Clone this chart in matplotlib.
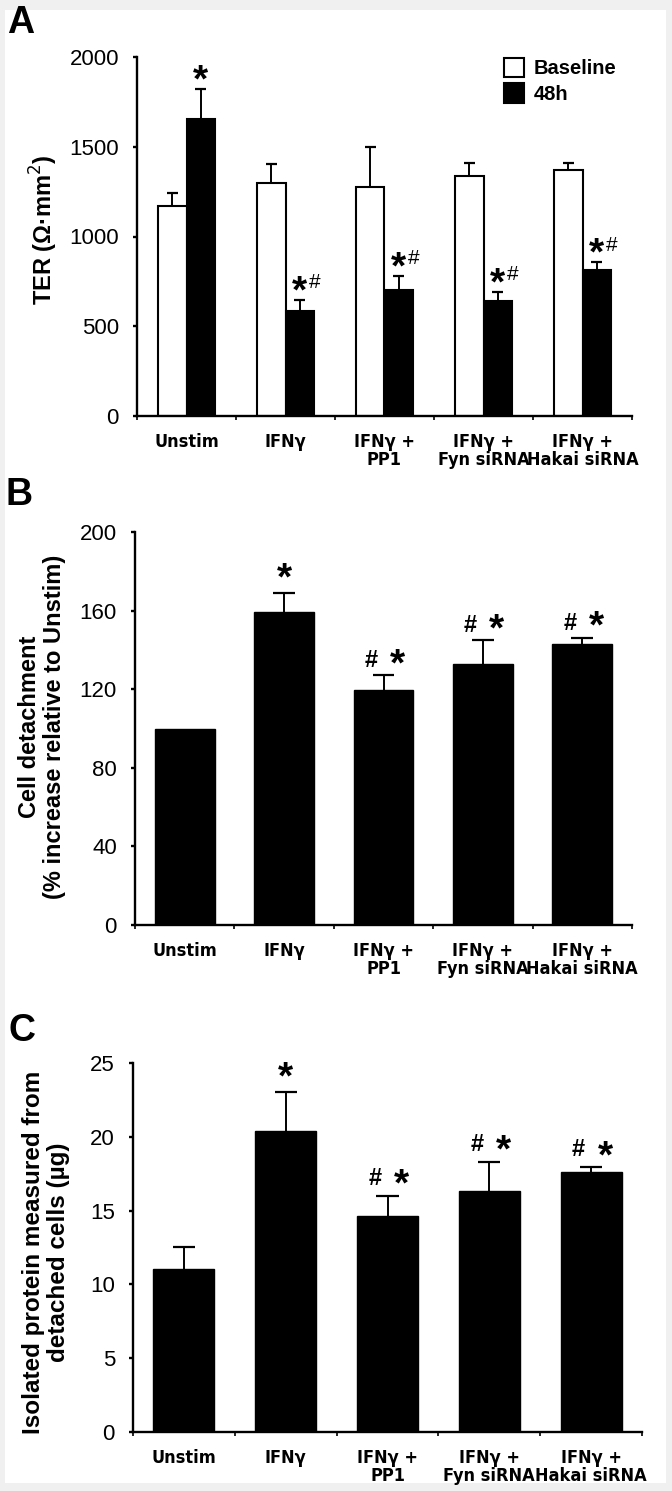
import matplotlib
matplotlib.use("Agg")
import matplotlib.pyplot as plt
from matplotlib.patches import Patch, Rectangle
from matplotlib import font_manager
from matplotlib.transforms import ScaledTranslation
import numpy as np

plt.rcParams['font.family'] = ['Liberation Sans', 'DejaVu Sans']

categories = ["Unstim", "IFN\u03b3", "IFN\u03b3 +\nPP1", "IFN\u03b3 +\nFyn siRNA", "IFN\u03b3 +\nHakai siRNA"]

# Panel A: TER
ter_baseline = [1170, 1298, 1276, 1339, 1369]
ter_baseline_err = [74, 104, 223, 72, 42]
ter_48h = [1655, 587, 702, 639, 815]
ter_48h_err = [165, 59, 78, 52, 41]
ter_marks = ["*", "*#", "*#", "*#", "*#"]
ter_ticks = [0, 500, 1000, 1500, 2000]

# Panel B: Cell detachment
detach = [100, 159.5, 119.5, 133.0, 143.2]
detach_err = [0, 9.3, 7.6, 12.0, 2.9]
detach_marks = ["", "*", "# *", "# *", "# *"]
detach_ticks = [0, 40, 80, 120, 160, 200]

# Panel C: Isolated protein
protein = [11.06, 20.37, 14.65, 16.3, 17.59]
protein_err = [1.5, 2.65, 1.36, 2.0, 0.36]
protein_marks = ["", "*", "# *", "# *", "# *"]
protein_ticks = [0, 5, 10, 15, 20, 25]

# pick a condensed face for the category labels if one is installed
CATFAM, CATFS, CATSTRETCH = ['Liberation Sans', 'DejaVu Sans'], 12.5, 'normal'
for fam, stretch, size in [('Liberation Sans Narrow', 'normal', 15),
                           ('DejaVu Sans Condensed', 'normal', 13),
                           ('DejaVu Sans', 'condensed', 13),
                           ('Roboto Condensed', 'normal', 15)]:
    try:
        f = font_manager.findfont(font_manager.FontProperties(family=fam, weight='bold', stretch=stretch),
                                  fallback_to_default=False)
        low = f.lower()
        if 'narrow' in low or 'condensed' in low:
            CATFAM, CATFS, CATSTRETCH = [fam, 'DejaVu Sans'], size, stretch
            break
    except Exception:
        pass

W, H = 672, 1491
fig = plt.figure(figsize=(W / 100, H / 100), dpi=100, facecolor='#f0f0f0')
fig.patches.append(Rectangle((5 / W, 8 / H), (666 - 5) / W, (1486 - 5 - 8) / H,
                             transform=fig.transFigure, facecolor='white',
                             edgecolor='none', zorder=-10))

def px_axes(l, t, r, b):
    return fig.add_axes([l / W, 1 - b / H, (r - l) / W, (b - t) / H])

TICKFS = 16

def style(ax, ymax, ticks):
    x = np.arange(len(categories))
    ax.set_facecolor('none')
    for s in ['top', 'right']:
        ax.spines[s].set_visible(False)
    for s in ['left', 'bottom']:
        ax.spines[s].set_linewidth(1.7)
    ax.set_ylim(0, ymax)
    ax.set_xlim(-0.5, len(categories) - 0.5)
    ax.set_yticks(ticks)
    ax.set_yticklabels([str(t) for t in ticks], fontsize=TICKFS)
    ax.tick_params(axis='y', length=3, width=1.7, pad=10)
    ax.set_xticks(x)
    labs = ax.set_xticklabels(categories, fontsize=CATFS, fontweight='bold', linespacing=1.0,
                              family=CATFAM, fontstretch=CATSTRETCH)
    # the last label sits a little to the right in the original
    labs[-1].set_transform(labs[-1].get_transform() + ScaledTranslation(8 / 100, 0, fig.dpi_scale_trans))
    ax.tick_params(axis='x', which='major', length=0, pad=12)
    ax.set_xticks(np.arange(len(categories) + 1) - 0.5, minor=True)
    ax.tick_params(axis='x', which='minor', length=3, width=1.2)

def error_up(ax, xs, vals, errs, capw):
    for xx, v, e in zip(xs, vals, errs):
        if e <= 0:
            continue
        ax.plot([xx, xx], [v, v + e], color='black', lw=1.4, zorder=1, solid_capstyle='butt')
        ax.plot([xx - capw, xx + capw], [v + e, v + e], color='black', lw=1.6, zorder=1,
                solid_capstyle='butt')

STARFS = 28

def star(ax, xx, t, dx, dy):
    ax.annotate("*", xy=(xx, t), xytext=(dx, dy), textcoords='offset points',
                ha='center', va='baseline', fontsize=STARFS, fontweight='bold')

def hsh(ax, xx, t, dx, dy, size, weight='bold'):
    ax.annotate("#", xy=(xx, t), xytext=(dx, dy), textcoords='offset points',
                ha='center', va='baseline', fontsize=size, fontweight=weight)

def marks(ax, xs, tops, labels, star_dy, hash_dy):
    for xx, t, lab in zip(xs, tops, labels):
        if lab == "*":
            star(ax, xx, t, 0, star_dy)
        elif lab == "*#":
            star(ax, xx, t, 0, star_dy)
            hsh(ax, xx, t, 11, hash_dy, 15, weight='normal')
        elif lab == "# *":
            hsh(ax, xx, t, -9, hash_dy, 17)
            star(ax, xx, t, 10, star_dy - 2.5)

x = np.arange(len(categories))

# ---------------- Panel A ----------------
axA = px_axes(137, 57, 632, 416)
bw = 0.285
axA.bar(x - bw / 2, ter_baseline, bw, color='white', edgecolor='black', linewidth=1.5, zorder=2)
axA.bar(x + bw / 2, ter_48h, bw, color='black', edgecolor='black', linewidth=1.5, zorder=2)
error_up(axA, x - bw / 2, ter_baseline, ter_baseline_err, 0.055)
error_up(axA, x + bw / 2, ter_48h, ter_48h_err, 0.055)
style(axA, 2000, ter_ticks)
marks(axA, x + bw / 2, [v + e for v, e in zip(ter_48h, ter_48h_err)], ter_marks,
      star_dy=-1.5, hash_dy=8.5)
leg = axA.legend(handles=[Patch(facecolor='white', edgecolor='black', linewidth=1.5, label='Baseline'),
                          Patch(facecolor='black', edgecolor='black', linewidth=1.5, label='48h')],
                 loc='upper left', bbox_to_anchor=((496 - 137) / 495, 1.02), frameon=False,
                 prop={'size': 14.5, 'weight': 'bold'}, handlelength=1.0, handleheight=1.1,
                 handletextpad=0.45, labelspacing=0.25, borderaxespad=0)
fig.text(44 / W, 1 - 230 / H, "TER (\u03a9\u00b7mm$^2$)", rotation=90, ha='center', va='center',
         fontsize=17, fontweight='bold')
fig.text(7 / W, 1 - 33 / H, "A", fontsize=27, fontweight='bold', ha='left', va='baseline')

# ---------------- Panel B ----------------
axB = px_axes(135, 532, 632, 925)
axB.bar(x, detach, 0.6, color='black', edgecolor='black', zorder=2)
error_up(axB, x, detach, detach_err, 0.11)
style(axB, 200, detach_ticks)
marks(axB, x, [v + e for v, e in zip(detach, detach_err)], detach_marks,
      star_dy=2.5, hash_dy=6)
fig.text(42 / W, 1 - 727 / H, "Cell detachment\n(% increase relative to Unstim)", rotation=90,
         ha='center', va='center', multialignment='center', fontsize=17, fontweight='bold',
         linespacing=1.15)
fig.text(6 / W, 1 - 505 / H, "B", fontsize=27, fontweight='bold', ha='left', va='baseline')

# ---------------- Panel C ----------------
axC = px_axes(133, 1063, 642, 1432)
axC.bar(x, protein, 0.6, color='black', edgecolor='black', zorder=2)
error_up(axC, x, protein, protein_err, 0.11)
style(axC, 25, protein_ticks)
marks(axC, x, [v + e for v, e in zip(protein, protein_err)], protein_marks,
      star_dy=2.5, hash_dy=8)
fig.text(46 / W, 1 - 1252 / H, "Isolated protein measured from\ndetached cells (\u00b5g)", rotation=90,
         ha='center', va='center', multialignment='center', fontsize=17.5, fontweight='bold',
         linespacing=1.15)
fig.text(9 / W, 1 - 1041 / H, "C", fontsize=27, fontweight='bold', ha='left', va='baseline')

fig.savefig("out.png", dpi=100, facecolor=fig.get_facecolor())
